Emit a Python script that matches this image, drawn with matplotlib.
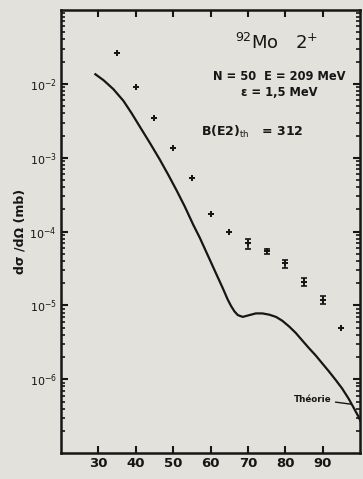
import numpy as np
import matplotlib
matplotlib.use("Agg")
import matplotlib.pyplot as plt
from matplotlib.ticker import LogLocator, NullFormatter, FixedLocator

# experimental points (angle in degrees, cross section in mb)
angulo = [35, 40, 45, 50, 55, 60, 65, 70, 75, 80, 85, 90, 95]
secao = [2.6e-2, 9.2e-3, 3.5e-3, 1.35e-3, 5.3e-4, 1.74e-4, 9.8e-5,
         6.9e-5, 5.4e-5, 3.7e-5, 2.1e-5, 1.2e-5, 5.0e-6]
erro_rel = [0, 0, 0, 0, 0, 0, 0, 0.16, 0.08, 0.13, 0.13, 0.13, 0]

# theory curve
ang_teoria = [29.2, 31.4, 34.0, 36.7, 38.9, 41.1, 43.8, 46.4, 48.8, 51.0,
              53.1, 55.4, 57.1, 59.7, 61.5, 63.3, 64.6, 65.5, 66.4,
              67.3, 68.6, 70.4, 72.1, 73.9, 75.7, 77.5, 79.2, 81.0, 82.8,
              84.5, 86.3, 88.1, 89.8, 91.6, 93.4, 95.2, 96.9, 98.3, 99.6,
              100.2]
sec_teoria = [1.35e-2, 1.12e-2, 8.5e-3, 5.9e-3, 4.0e-3, 2.63e-3, 1.58e-3,
              9.5e-4, 5.75e-4, 3.55e-4, 2.19e-4, 1.23e-4, 8.3e-5,
              4.27e-5, 2.69e-5, 1.70e-5, 1.20e-5, 9.8e-6, 8.3e-6, 7.4e-6,
              7.0e-6, 7.4e-6, 7.8e-6, 7.8e-6, 7.5e-6, 7.0e-6, 6.2e-6,
              5.2e-6, 4.24e-6, 3.37e-6, 2.65e-6, 2.11e-6, 1.66e-6, 1.29e-6,
              9.9e-7, 7.5e-7, 5.5e-7, 4.1e-7, 3.1e-7, 2.64e-7]

xticks = [30, 40, 50, 60, 70, 80, 90]
yticks = [1e-2, 1e-3, 1e-4, 1e-5, 1e-6]
ylabels = ["$10^{-2}$", "$10^{-3}$", "$10^{-4}$", "$10^{-5}$", "$10^{-6}$"]

fundo = "#e2e1dc"
tinta = "#161616"

fig = plt.figure(figsize=(3.63, 4.79), dpi=100, facecolor=fundo)
ax = fig.add_axes([0.168, 0.054, 0.824, 0.925], facecolor=fundo)

ax.plot(ang_teoria, sec_teoria, color=tinta, lw=1.6)

sec = np.array(secao)
err = sec * np.array(erro_rel)
ax.errorbar(angulo, secao, yerr=err, fmt="none", ecolor=tinta, elinewidth=1.2,
            capsize=2.2, capthick=1.2)
ax.plot(angulo, secao, linestyle="none", marker="P", markersize=4.5,
        color=tinta, markeredgewidth=0)

ax.set_yscale("log")
ax.set_xlim(20, 100)
ax.set_ylim(1e-7, 1e-1)

ax.xaxis.set_major_locator(FixedLocator(xticks))
ax.set_xticklabels([str(t) for t in xticks], fontsize=9.5, fontweight="bold", color=tinta)
ax.yaxis.set_major_locator(FixedLocator(yticks))
ax.set_yticklabels(ylabels, fontsize=8, fontweight="bold", color=tinta)
ax.yaxis.set_minor_locator(LogLocator(base=10, subs=np.arange(2, 10), numticks=20))
ax.yaxis.set_minor_formatter(NullFormatter())

ax.tick_params(which="both", direction="in", top=True, right=True, color=tinta)
ax.tick_params(which="major", length=5, width=1.5, pad=3)
ax.tick_params(which="minor", length=3, width=1.2)
for s in ax.spines.values():
    s.set_linewidth(1.8)
    s.set_color(tinta)

ax.set_ylabel("dσ /dΩ (mb)", fontsize=9, fontweight="bold", color=tinta, labelpad=2)

ax.text(0.72, 0.926, "$^{92}$Mo   2$^{+}$", transform=ax.transAxes, fontsize=13,
        ha="center", va="center", color=tinta)
ax.text(0.73, 0.85, "N = 50  E = 209 MeV", transform=ax.transAxes, fontsize=8.3,
        ha="center", va="center", color=tinta, fontweight="bold")
ax.text(0.73, 0.815, "ε = 1,5 MeV", transform=ax.transAxes, fontsize=8.3,
        ha="center", va="center", color=tinta, fontweight="bold")
ax.text(0.64, 0.725, "B(E2)$_{\\rm th}$   = 312", transform=ax.transAxes, fontsize=9,
        ha="center", va="center", color=tinta, fontweight="bold")

ax.annotate("Théorie", xy=(97.6, 4.6e-7), xytext=(92.3, 5.4e-7), fontsize=6.3,
            ha="right", va="center", color=tinta, fontweight="bold",
            arrowprops=dict(arrowstyle="-", color=tinta, lw=1.0, shrinkA=1, shrinkB=0))

fig.savefig("out.png", dpi=100, facecolor=fundo)
